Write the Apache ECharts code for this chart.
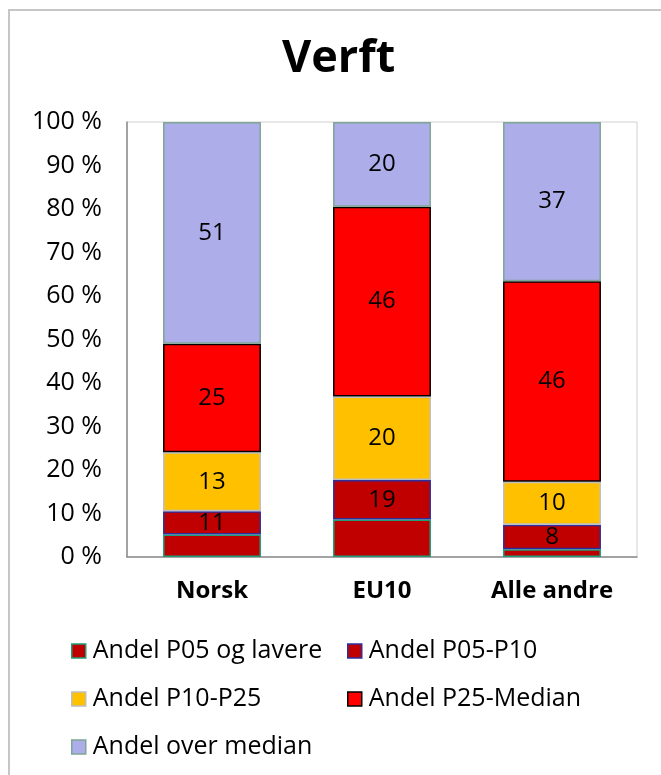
<!DOCTYPE html>
<html>
<head>
<meta charset="utf-8">
<script src="https://cdn.jsdelivr.net/npm/echarts@6/dist/echarts.min.js"></script>
<style>
  html, body { margin: 0; padding: 0; background: #fff; }
  #chart { width: 661px; height: 775px; }
</style>
</head>
<body>
<div id="chart"></div>
<script>
  // kategorier og andeler (prosent av høyden)
  var categories = ['Norsk', 'EU10', 'Alle andre'];
  var seriesNames = ['Andel P05 og lavere', 'Andel P05-P10', 'Andel P10-P25', 'Andel P25-Median', 'Andel over median'];
  var p05 = [5.2, 8.6, 1.8];
  var p05p10 = [5.3, 9.1, 5.6];
  var p10p25 = [13.6, 19.2, 9.9];
  var p25med = [24.9, 43.6, 46.1];
  var overMed = [51.0, 19.5, 36.6];
  // tallene som står skrevet i søylene
  var labP05p10 = ['11', '19', '8'];
  var labP10p25 = ['13', '20', '10'];
  var labP25med = ['25', '46', '46'];
  var labOverMed = ['51', '20', '37'];
  var yTicks = [0, 10, 20, 30, 40, 50, 60, 70, 80, 90, 100];

  var font = 'Open Sans';
  var fills = ['#C00000', '#C00000', '#FFC000', '#FF0000', '#ADADEA'];
  var borders = ['#1E9E78', '#2E2E9E', '#BFBFBF', '#000000', '#7FA595'];

  var chart = echarts.init(document.getElementById('chart'));

  function makeSeries(i, values, labels) {
    return {
      name: seriesNames[i],
      type: 'bar',
      stack: 'total',
      barWidth: '57.6%',
      data: values,
      itemStyle: { color: fills[i], borderColor: borders[i], borderWidth: 1.5 },
      label: {
        show: !!labels,
        position: 'inside',
        color: '#000',
        fontFamily: font,
        fontSize: 24,
        formatter: function (p) { return labels ? labels[p.dataIndex] : ''; }
      },
      emphasis: { disabled: true }
    };
  }

  // legendene: venstre kant av ikon og midtlinje for hver rad
  var legendPos = [[71, 648], [347, 648], [71, 696], [347, 696], [71, 744]];
  var legends = [];
  for (let i = 0; i < seriesNames.length; i++) {
    legends.push({
      data: [{ name: seriesNames[i], itemStyle: { color: fills[i], borderColor: borders[i], borderWidth: 1.5 } }],
      left: legendPos[i][0] - 5,
      top: legendPos[i][1] - 15,
      itemWidth: 14,
      itemHeight: 14,
      itemGap: 0,
      selectedMode: false,
      icon: 'rect',
      textStyle: { fontFamily: font, fontSize: 25, lineHeight: 26, color: '#000', padding: [0, 0, 0, 2] }
    });
  }

  var option = {
    animation: false,
    title: {
      text: 'Verft',
      left: 277,
      top: 32,
      textStyle: { fontFamily: font, fontWeight: 'bold', fontSize: 45, color: '#000' }
    },
    graphic: [{
      type: 'rect',
      shape: { x: 9, y: 10, width: 720, height: 820 },
      style: { fill: 'none', stroke: '#C6C6C6', lineWidth: 2 },
      silent: true
    }],
    legend: legends,
    grid: {
      left: 127, right: 24, top: 122, bottom: 218,
      show: true, borderColor: '#D0D0D0', borderWidth: 1
    },
    xAxis: {
      type: 'category',
      data: categories,
      axisLine: { lineStyle: { color: '#8C8C8C', width: 1.5 } },
      axisTick: { show: false },
      axisLabel: { fontFamily: font, fontWeight: 'bold', fontSize: 24, color: '#000', margin: 22 }
    },
    yAxis: {
      type: 'value',
      min: 0, max: 100, interval: 10,
      splitLine: { show: false },
      axisLine: { show: true, lineStyle: { color: '#8C8C8C', width: 1.5 } },
      axisTick: { show: false },
      axisLabel: {
        fontFamily: font, fontSize: 25, color: '#000', margin: 25,
        formatter: function (v) { return yTicks.indexOf(v) >= 0 ? v + ' %' : ''; }
      }
    },
    series: [
      makeSeries(0, p05, null),
      makeSeries(1, p05p10, labP05p10),
      makeSeries(2, p10p25, labP10p25),
      makeSeries(3, p25med, labP25med),
      makeSeries(4, overMed, labOverMed)
    ]
  };
  chart.setOption(option);
</script>
</body>
</html>
